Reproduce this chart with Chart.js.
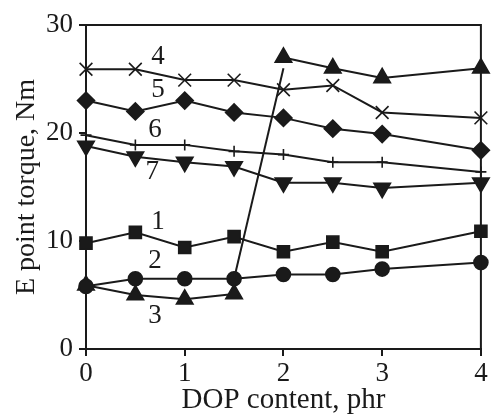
<!DOCTYPE html>
<html>
<head>
<meta charset="utf-8">
<script src="https://cdn.jsdelivr.net/npm/chart.js@4"></script>
<style>
  html, body { margin: 0; padding: 0; background: #fff; }
  #wrap { width: 492px; height: 414px; }
</style>
</head>
<body>
<div id="wrap"><canvas id="torqueChart" width="492" height="414"></canvas></div>
<script>
// DOP content, phr
const dop = [0, 0.5, 1, 1.5, 2, 2.5, 3, 4];

// E point torque, Nm (curves 1..7)
const curve1 = [9.8, 10.8, 9.4, 10.4, 9.0, 9.9, 9.0, 10.9];
const curve2 = [5.8, 6.5, 6.5, 6.5, 6.9, 6.9, 7.4, 8.0];
const curve3 = [5.9, 5.0, 4.6, 5.1, 27.0, 26.0, 25.1, 26.0];
const curve4 = [25.9, 25.9, 24.9, 24.9, 24.0, 24.4, 21.9, 21.4];
const curve5 = [23.0, 22.0, 23.0, 21.9, 21.4, 20.4, 19.9, 18.4];
const curve6 = [19.8, 18.9, 18.9, 18.3, 18.0, 17.3, 17.3, 16.4];
const curve7 = [18.8, 17.8, 17.3, 16.9, 15.4, 15.4, 14.9, 15.4];

// the steep line of curve 3 starts from the circle at 1.5
const jumpX = [1.5, 2];
const jumpY = [6.5, 26.0];

// curve numbers written on the plot
const curveNames = ["1", "2", "3", "4", "5", "6", "7"];
const nameX = [0.73, 0.70, 0.70, 0.73, 0.73, 0.70, 0.67];
const nameY = [11.8, 8.2, 3.1, 27.0, 24.0, 20.3, 16.4];

const xTicks = [0, 1, 2, 3, 4];
const yTicks = [0, 10, 20, 30];

const serif = "'Liberation Serif', 'Times New Roman', serif";

function pts(xs, ys) {
  return xs.map((x, i) => ({ x: x, y: ys[i] }));
}

function serie(ys, style, radius, extra) {
  return Object.assign({
    data: pts(dop, ys),
    borderColor: "#1a1a1a",
    backgroundColor: "#1a1a1a",
    borderWidth: 2,
    pointStyle: style,
    pointRadius: radius,
    pointHoverRadius: radius,
    pointBorderWidth: 1.6,
    pointBackgroundColor: "#1a1a1a",
    pointBorderColor: "#1a1a1a",
    tension: 0,
    clip: false
  }, extra || {});
}

// frame + curve numbers
const decor = {
  id: "decor",
  afterDatasetsDraw(chart) {
    const ctx = chart.ctx;
    const a = chart.chartArea;
    const sx = chart.scales.x, sy = chart.scales.y;
    ctx.save();
    ctx.strokeStyle = "#1a1a1a";
    ctx.lineWidth = 2;
    ctx.beginPath();
    ctx.moveTo(a.left, a.top);
    ctx.lineTo(a.right, a.top);
    ctx.lineTo(a.right, a.bottom);
    ctx.stroke();
    ctx.fillStyle = "#1a1a1a";
    ctx.font = "27px " + serif;
    ctx.textAlign = "center";
    ctx.textBaseline = "middle";
    curveNames.forEach((n, i) => {
      ctx.fillText(n, sx.getPixelForValue(nameX[i]), sy.getPixelForValue(nameY[i]));
    });
    ctx.restore();
  }
};

const datasets = [
  {
    data: pts(jumpX, jumpY),
    borderColor: "#1a1a1a",
    borderWidth: 2,
    pointRadius: 0,
    clip: false
  },
  serie(curve1, "rect", 8.5),
  serie(curve2, "circle", 7),
  serie(curve3, "triangle", 9.5, {
    segment: { borderColor: c => c.p0DataIndex === 3 ? "rgba(0,0,0,0)" : "#1a1a1a" }
  }),
  serie(curve4, "crossRot", 9),
  serie(curve5, "rectRot", 8.5),
  serie(curve6, "cross", 5.5),
  serie(curve7, "triangle", 9.5, { pointRotation: 180 })
];

new Chart(document.getElementById("torqueChart"), {
  type: "line",
  data: { datasets: datasets },
  options: {
    responsive: false,
    animation: false,
    layout: { padding: { top: 25, right: 11, left: 0, bottom: 0 } },
    plugins: {
      legend: { display: false },
      tooltip: { enabled: false }
    },
    scales: {
      x: {
        type: "linear",
        min: 0,
        max: 4,
        afterBuildTicks: s => { s.ticks = xTicks.map(v => ({ value: v })); },
        afterFit: s => { s.height = 65; },
        border: { color: "#1a1a1a", width: 2 },
        grid: { drawOnChartArea: false, drawTicks: true, tickLength: 7, color: "#1a1a1a", lineWidth: 2 },
        ticks: { color: "#1a1a1a", padding: 2, maxRotation: 0, font: { family: serif, size: 27 } },
        title: {
          display: true,
          text: "DOP content, phr",
          color: "#1a1a1a",
          padding: { top: 0, bottom: -1 },
          font: { family: serif, size: 29, lineHeight: 1 }
        }
      },
      y: {
        min: 0,
        max: 30,
        afterBuildTicks: s => { s.ticks = yTicks.map(v => ({ value: v })); },
        afterFit: s => { s.width = 86; },
        border: { color: "#1a1a1a", width: 2 },
        grid: { drawOnChartArea: false, drawTicks: true, tickLength: 7, color: "#1a1a1a", lineWidth: 2 },
        ticks: { color: "#1a1a1a", padding: 6, font: { family: serif, size: 27 } },
        title: {
          display: true,
          text: "E point torque, Nm",
          color: "#1a1a1a",
          padding: { top: 13, bottom: 0 },
          font: { family: serif, size: 28, lineHeight: 1 }
        }
      }
    }
  },
  plugins: [decor]
});
</script>
</body>
</html>
